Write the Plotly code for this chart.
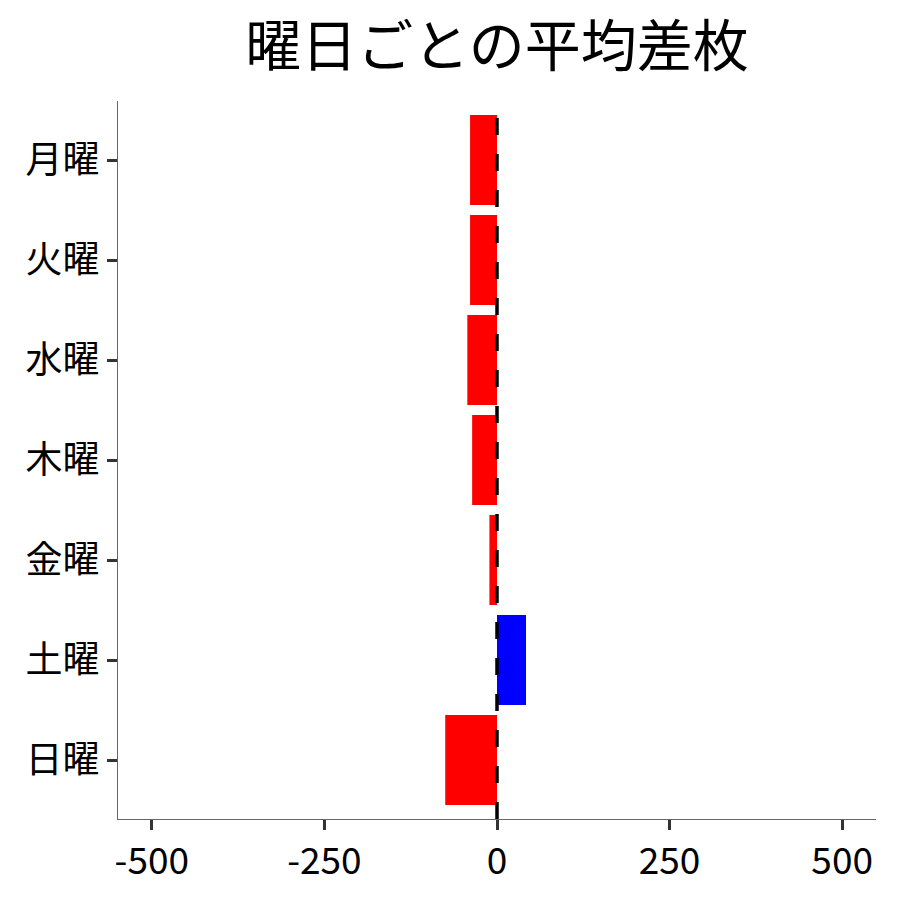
import plotly.graph_objects as go

# 曜日ごとの平均差枚
days = ["月曜", "火曜", "水曜", "木曜", "金曜", "土曜", "日曜"]
avg_diff = [-39, -39, -43, -36, -11, 42, -75]
x_ticks = [-500, -250, 0, 250, 500]
x_labels = ["-500", "-250", "0", "250", "500"]

colors = ["#0000ff" if v > 0 else "#ff0000" for v in avg_diff]

FONT = "Noto Sans CJK JP"

fig = go.Figure()
fig.add_trace(go.Bar(
    x=avg_diff,
    y=days,
    orientation="h",
    marker=dict(color=colors, line=dict(width=0)),
    width=0.9,
    showlegend=False,
))

# zero reference line
fig.add_vline(x=0, line=dict(color="black", width=3.5, dash="17px,19px"))

fig.update_layout(
    width=900,
    height=900,
    margin=dict(l=110, r=32, t=93, b=89),
    plot_bgcolor="white",
    paper_bgcolor="white",
    font=dict(family=FONT, color="black"),
    title=dict(
        text="曜日ごとの平均差枚",
        x=0.5, xref="paper", xanchor="center",
        y=0.957, yanchor="middle",
        font=dict(size=56, family=FONT, color="black"),
    ),
)

fig.update_xaxes(
    range=[-549, 549],
    tickvals=x_ticks, ticktext=x_labels,
    ticks="outside", ticklen=10, tickwidth=3, tickcolor="#333333",
    showline=True, linecolor="#666666", linewidth=1,
    showgrid=False, zeroline=False,
    tickfont=dict(size=37, family=FONT, color="black"),
)
fig.update_yaxes(
    categoryorder="array", categoryarray=days[::-1],
    range=[-0.59, 6.59],
    ticks="outside", ticklen=10, tickwidth=3, tickcolor="#333333",
    showline=True, linecolor="#666666", linewidth=1,
    showgrid=False, zeroline=False,
    tickfont=dict(size=37, family=FONT, color="black"),
)

fig.write_html("out.html")
